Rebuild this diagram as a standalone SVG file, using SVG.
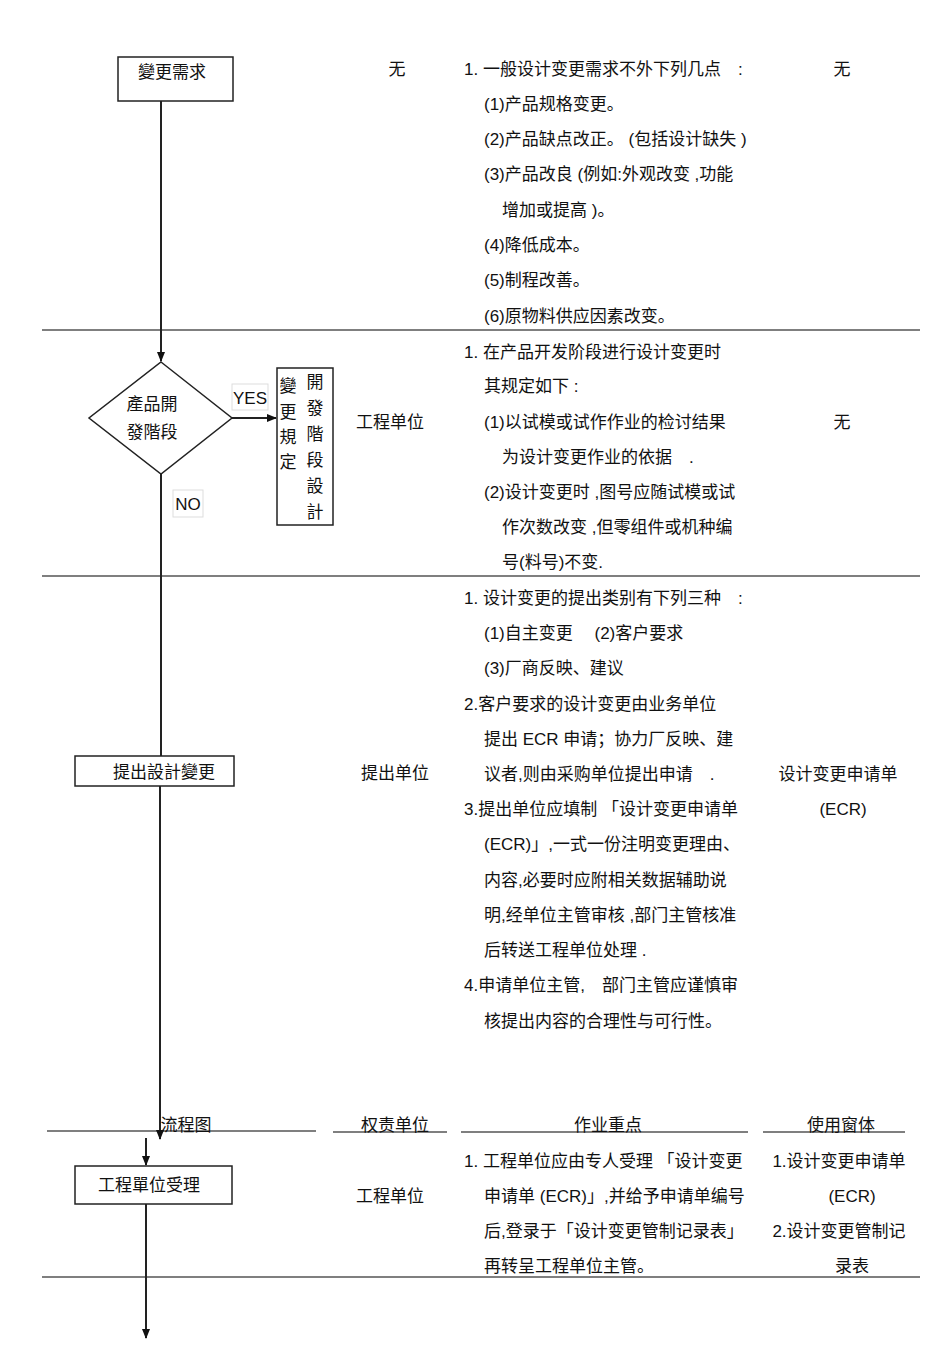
<svg xmlns="http://www.w3.org/2000/svg" width="950" height="1345" viewBox="0 0 950 1345">
<style>
text{font-family:"Liberation Sans","Noto Sans CJK SC",sans-serif;font-size:17px;fill:#111}
.tc{text-anchor:middle}
.node{fill:#fff;stroke:#222;stroke-width:1.5}
.ln{stroke:#555;stroke-width:1.3;fill:none}
.con{stroke:#222;stroke-width:2;fill:none}
</style>
<defs><marker id="ah" markerWidth="10" markerHeight="10" refX="9" refY="5" orient="auto" markerUnits="userSpaceOnUse"><path d="M0,1 L10,5 L0,9 Z" fill="#111"/></marker></defs>
<rect width="950" height="1345" fill="#fff"/>
<g id="lines">
<line class="ln" x1="42" y1="330" x2="920" y2="330"/>
<line class="ln" x1="42" y1="576" x2="920" y2="576"/>
<line class="ln" x1="47" y1="1131" x2="316" y2="1131"/>
<line class="ln" x1="333" y1="1132" x2="447" y2="1132"/>
<line class="ln" x1="461" y1="1132" x2="748" y2="1132"/>
<line class="ln" x1="763" y1="1132" x2="905" y2="1132"/>
<line class="ln" x1="42" y1="1277" x2="920" y2="1277"/>
</g>
<g id="connectors">
<line class="con" x1="161" y1="101" x2="161" y2="361" marker-end="url(#ah)"/>
<line class="con" x1="232" y1="418" x2="276" y2="418" marker-end="url(#ah)"/>
<line class="con" x1="161" y1="474" x2="161" y2="756"/>
<line class="con" x1="160" y1="786" x2="160" y2="1139" marker-end="url(#ah)"/>
<line class="con" x1="146" y1="1138" x2="146" y2="1165" marker-end="url(#ah)"/>
<line class="con" x1="146" y1="1204" x2="146" y2="1338" marker-end="url(#ah)"/>
</g>
<g id="n1"><rect class="node" x="118" y="57" width="115" height="44"/><text x="172" y="78" class="tc">變更需求</text></g>
<g id="n2"><polygon class="node" points="161,362 232,418 161,474 89,418"/><text x="152" y="410" class="tc">產品開</text><text x="152" y="438" class="tc">發階段</text></g>
<g id="yes"><rect x="232" y="384" width="36" height="26" fill="#fff" stroke="#ddd"/><text x="250" y="404" class="tc">YES</text></g>
<g id="no"><rect x="173" y="490" width="30" height="27" fill="#fff" stroke="#ddd"/><text x="188" y="510" class="tc">NO</text></g>
<g id="n3"><rect class="node" x="277" y="368" width="56" height="157"/>
<text x="288" y="392" class="tc">變</text><text x="288" y="418" class="tc">更</text><text x="288" y="443" class="tc">規</text><text x="288" y="468" class="tc">定</text>
<text x="315" y="388" class="tc">開</text><text x="315" y="414" class="tc">發</text><text x="315" y="440" class="tc">階</text><text x="315" y="466" class="tc">段</text><text x="315" y="492" class="tc">設</text><text x="315" y="518" class="tc">計</text></g>
<g id="n4"><rect class="node" x="75" y="756" width="159" height="30"/><text x="164" y="778" class="tc">提出設計變更</text></g>
<g id="n5"><rect class="node" x="75" y="1166" width="157" height="38"/><text x="149" y="1191" class="tc">工程單位受理</text></g>
<g id="col2">
<text x="397" y="75" class="tc">无</text>
<text x="390" y="428" class="tc">工程单位</text>
<text x="395" y="779" class="tc">提出单位</text>
<text x="390" y="1202" class="tc">工程单位</text>
</g>
<g id="col3">
<text x="464" y="75">1. 一般设计变更需求不外下列几点　:</text>
<text x="484" y="110">(1)产品规格变更。</text>
<text x="484" y="145">(2)产品缺点改正。 (包括设计缺失 )</text>
<text x="484" y="180">(3)产品改良 (例如:外观改变 ,功能</text>
<text x="502" y="216">增加或提高 )。</text>
<text x="484" y="251">(4)降低成本。</text>
<text x="484" y="286">(5)制程改善。</text>
<text x="484" y="322">(6)原物料供应因素改变。</text>
<text x="464" y="358">1. 在产品开发阶段进行设计变更时</text>
<text x="484" y="392">其规定如下 :</text>
<text x="484" y="428">(1)以试模或试作作业的检讨结果</text>
<text x="502" y="463">为设计变更作业的依据　.</text>
<text x="484" y="498">(2)设计变更时 ,图号应随试模或试</text>
<text x="502" y="533">作次数改变 ,但零组件或机种编</text>
<text x="502" y="568">号(料号)不变.</text>
<text x="464" y="604">1. 设计变更的提出类别有下列三种　:</text>
<text x="484" y="639">(1)自主变更　 (2)客户要求</text>
<text x="484" y="674">(3)厂商反映、建议</text>
<text x="464" y="710">2.客户要求的设计变更由业务单位</text>
<text x="484" y="745">提出 ECR 申请；协力厂反映、建</text>
<text x="484" y="780">议者,则由采购单位提出申请　.</text>
<text x="464" y="815">3.提出单位应填制 「设计变更申请单</text>
<text x="484" y="850">(ECR)」,一式一份注明变更理由、</text>
<text x="484" y="886">内容,必要时应附相关数据辅助说</text>
<text x="484" y="921">明,经单位主管审核 ,部门主管核准</text>
<text x="484" y="956">后转送工程单位处理 .</text>
<text x="464" y="991">4.申请单位主管,　部门主管应谨慎审</text>
<text x="484" y="1027">核提出内容的合理性与可行性。</text>
<text x="464" y="1167">1. 工程单位应由专人受理 「设计变更</text>
<text x="484" y="1202">申请单 (ECR)」,并给予申请单编号</text>
<text x="484" y="1237">后,登录于「设计变更管制记录表」</text>
<text x="484" y="1272">再转呈工程单位主管。</text>
</g>
<g id="col4">
<text x="842" y="75" class="tc">无</text>
<text x="842" y="428" class="tc">无</text>
<text x="838" y="780" class="tc">设计变更申请单</text>
<text x="843" y="815" class="tc">(ECR)</text>
<text x="839" y="1167" class="tc">1.设计变更申请单</text>
<text x="852" y="1202" class="tc">(ECR)</text>
<text x="839" y="1237" class="tc">2.设计变更管制记</text>
<text x="852" y="1272" class="tc">录表</text>
</g>
<g id="header">
<text x="186" y="1131" class="tc">流程图</text>
<text x="395" y="1131" class="tc">权责单位</text>
<text x="608" y="1131" class="tc">作业重点</text>
<text x="841" y="1131" class="tc">使用窗体</text>
</g>
</svg>
